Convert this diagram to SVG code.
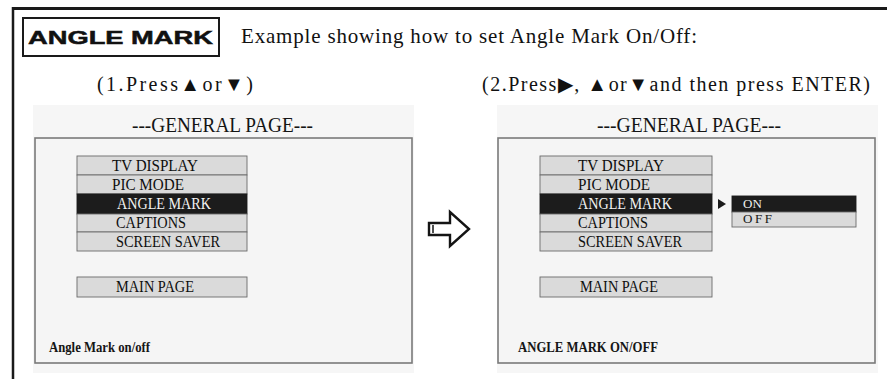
<svg xmlns="http://www.w3.org/2000/svg" width="887" height="379" viewBox="0 0 887 379">
<style>
.serif{font-family:"Liberation Serif","Times New Roman",serif;fill:#111}
.row{fill:#dadada;stroke:#6a6a6a;stroke-width:0.9}
.sel{fill:#1c1c1c;stroke:#1c1c1c;stroke-width:0.9}
.item{font-family:"Liberation Serif","Times New Roman",serif;font-size:17px;fill:#0e0e0e}
.itemw{font-family:"Liberation Serif","Times New Roman",serif;font-size:17px;fill:#f2f2f2}
.panelbg{fill:#f6f6f6}
.box{fill:#f5f5f5;stroke:#7a7a7a;stroke-width:1.6}
.hdr{font-family:"Liberation Serif","Times New Roman",serif;font-size:21px;fill:#151515}
.foot{font-family:"Liberation Serif","Times New Roman",serif;font-size:14px;font-weight:bold;fill:#161616}
</style>
<rect width="887" height="379" fill="#ffffff"/>
<g id="frame">
<line x1="12" y1="8.5" x2="887" y2="8.5" stroke="#1a1a1a" stroke-width="3"/>
<line x1="13" y1="7" x2="13" y2="379" stroke="#1a1a1a" stroke-width="2.5"/>
</g>
<g id="title">
<rect x="23" y="18" width="196" height="38" fill="#fff" stroke="#1a1a1a" stroke-width="2"/>
<text x="28" y="44" font-family="'Liberation Sans',Arial,sans-serif" font-weight="bold" font-size="19" fill="#111" stroke="#111" stroke-width="0.5" textLength="185" lengthAdjust="spacingAndGlyphs">ANGLE MARK</text>
<text class="serif" x="241" y="43" font-size="21" textLength="456" lengthAdjust="spacing">Example showing how to set Angle Mark On/Off:</text>
</g>
<g id="step1-label">
<text class="serif" x="97" y="91" font-size="20" textLength="156" lengthAdjust="spacing">(1.Press▲or▼)</text>
</g>
<g id="step2-label">
<text class="serif" x="482" y="91" font-size="20" textLength="388" lengthAdjust="spacing">(2.Press▶, ▲or▼and then press ENTER)</text>
</g>

<g id="panel-left">
<rect class="panelbg" x="33" y="105" width="381" height="268"/>
<text class="hdr" x="132" y="132" textLength="181" lengthAdjust="spacingAndGlyphs">---GENERAL PAGE---</text>
<rect class="box" x="35" y="138" width="377" height="225"/>
<rect class="row" x="77" y="156" width="170" height="19"/>
<rect class="row" x="77" y="175" width="170" height="19"/>
<rect class="sel" x="77" y="194" width="170" height="20"/>
<rect class="row" x="77" y="214" width="170" height="18"/>
<rect class="row" x="77" y="232" width="170" height="19"/>
<text class="item" x="112" y="171" textLength="86" lengthAdjust="spacingAndGlyphs">TV DISPLAY</text>
<text class="item" x="112" y="190" textLength="72" lengthAdjust="spacingAndGlyphs">PIC MODE</text>
<text class="itemw" x="117" y="209" textLength="94" lengthAdjust="spacingAndGlyphs">ANGLE MARK</text>
<text class="item" x="116" y="228" textLength="70" lengthAdjust="spacingAndGlyphs">CAPTIONS</text>
<text class="item" x="116" y="247" textLength="104" lengthAdjust="spacingAndGlyphs">SCREEN SAVER</text>
<rect class="row" x="77" y="277" width="170" height="20"/>
<text class="item" x="116" y="292" textLength="78" lengthAdjust="spacingAndGlyphs">MAIN PAGE</text>
<text class="foot" x="49" y="352" textLength="101" lengthAdjust="spacingAndGlyphs">Angle Mark on/off</text>
</g>

<g id="panel-right">
<rect class="panelbg" x="497" y="105" width="381" height="268"/>
<text class="hdr" x="597" y="132" textLength="184" lengthAdjust="spacingAndGlyphs">---GENERAL PAGE---</text>
<rect class="box" x="498" y="138" width="377" height="225"/>
<rect class="row" x="540" y="156" width="172" height="19"/>
<rect class="row" x="540" y="175" width="172" height="19"/>
<rect class="sel" x="540" y="194" width="172" height="20"/>
<rect class="row" x="540" y="214" width="172" height="18"/>
<rect class="row" x="540" y="232" width="172" height="19"/>
<text class="item" x="578" y="171" textLength="86" lengthAdjust="spacingAndGlyphs">TV DISPLAY</text>
<text class="item" x="578" y="190" textLength="72" lengthAdjust="spacingAndGlyphs">PIC MODE</text>
<text class="itemw" x="578" y="209" textLength="94" lengthAdjust="spacingAndGlyphs">ANGLE MARK</text>
<text class="item" x="578" y="228" textLength="70" lengthAdjust="spacingAndGlyphs">CAPTIONS</text>
<text class="item" x="578" y="247" textLength="104" lengthAdjust="spacingAndGlyphs">SCREEN SAVER</text>
<rect class="row" x="540" y="277" width="172" height="20"/>
<text class="item" x="580" y="292" textLength="78" lengthAdjust="spacingAndGlyphs">MAIN PAGE</text>
<text class="foot" x="518" y="352" textLength="140" lengthAdjust="spacingAndGlyphs">ANGLE MARK ON/OFF</text>
</g>

<g id="submenu">
<polygon points="718,199 726,204 718,209" fill="#1a1a1a"/>
<rect class="sel" x="732" y="196" width="124" height="16"/>
<rect class="row" x="732" y="212" width="124" height="15"/>
<text x="743" y="208" font-family="'Liberation Serif','Times New Roman',serif" font-size="13" fill="#f0f0f0" textLength="19" lengthAdjust="spacing">ON</text>
<text x="743" y="223" font-family="'Liberation Serif','Times New Roman',serif" font-size="13" fill="#161616" textLength="29" lengthAdjust="spacing">OFF</text>
</g>

<g id="connectors">
<path d="M429,223 L450,223 L450,212 L469,229 L450,246 L450,235 L429,235 Z" fill="#fff" stroke="#141414" stroke-width="2.4" stroke-linejoin="miter"/>
<line x1="433" y1="225" x2="433" y2="233" stroke="#141414" stroke-width="1.5"/>
</g>
</svg>
